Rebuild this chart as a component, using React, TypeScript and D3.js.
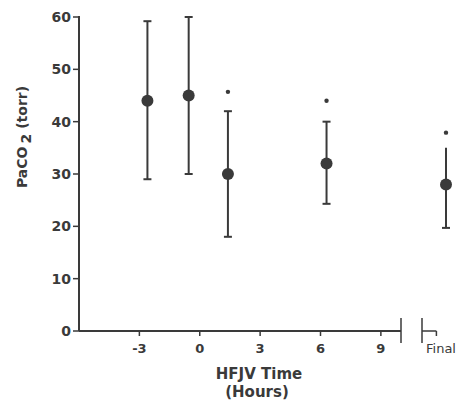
import React from "react";
import { scaleLinear } from "d3";

// time points (hours of HFJV) and PaCO2 values (torr)
const timeHours = [-2.6, -0.55, 1.4, 6.3];
const means = [44, 45, 30, 32];
const upper = [59.2, 60, 42, 40];
const lower = [29, 30, 18, 24.3];
const starValues = [null, null, 45.7, 44];

const finalMean = 28;
const finalUpper = 35;
const finalLower = 19.7;
const finalStar = 37.9;

const xTicks = [-3, 0, 3, 6, 9];
const yTicks = [0, 10, 20, 30, 40, 50, 60];

const W = 463;
const H = 403;
const ink = "#3a3a3a";
const font = "'DejaVu Sans', 'Liberation Sans', sans-serif";

export default function App() {
  const x = scaleLinear().domain([-6, 10]).range([79, 401]);
  const xFinal = scaleLinear().domain([0, 1]).range([422, 470]);
  const y = scaleLinear().domain([0, 60]).range([331, 17]);

  const x0 = x(-6);
  const y0 = y(0);
  const cap = 4;

  const points = timeHours.map((t, i) => ({
    cx: x(t),
    mean: means[i],
    hi: upper[i],
    lo: lower[i],
    star: starValues[i],
  }));
  const fx = xFinal(0.5);

  return (
    <svg
      width={W}
      height={H}
      style={{ position: "absolute", left: 0, top: 0, background: "#fff" }}
      fontFamily={font}
    >
      {/* y axis */}
      <line x1={x0} x2={x0} y1={y(60) - 1} y2={y0} stroke={ink} strokeWidth={2} />
      {yTicks.map((v) => (
        <g key={v} transform={`translate(0,${y(v)})`}>
          <line x1={x0 - 6} x2={x0} stroke={ink} strokeWidth={1.5} />
          <text x={x0 - 8} dy="0.36em" textAnchor="end" fontSize={14} fontWeight="bold" fill={ink}>
            {v}
          </text>
        </g>
      ))}
      <text
        transform={`translate(27,137) rotate(-90)`}
        textAnchor="middle"
        fontSize={14}
        fontWeight="bold"
        fill={ink}
      >
        PaCO
        <tspan dx={3} dy={4}>2</tspan>
        <tspan dx={5} dy={-4}>(torr)</tspan>
      </text>

      {/* x axis, main segment */}
      <line x1={x0} x2={x(10)} y1={y0} y2={y0} stroke={ink} strokeWidth={2} />
      <line x1={x(10)} x2={x(10)} y1={y0 - 13} y2={y0 + 12} stroke={ink} strokeWidth={1.5} />
      {xTicks.map((v) => (
        <g key={v} transform={`translate(${x(v)},${y0})`}>
          <line y1={0} y2={5} stroke={ink} strokeWidth={1.5} />
          <text y={22} textAnchor="middle" fontSize={13} fontWeight="bold" fill={ink}>
            {v}
          </text>
        </g>
      ))}

      {/* x axis, final segment */}
      <line x1={xFinal(0)} x2={xFinal(0)} y1={y0 - 13} y2={y0 + 12} stroke={ink} strokeWidth={1.5} />
      <line x1={xFinal(0)} x2={xFinal(0.3)} y1={y0} y2={y0} stroke={ink} strokeWidth={1.5} />
      <line x1={xFinal(0.3)} x2={xFinal(0.3)} y1={y0} y2={y0 + 5} stroke={ink} strokeWidth={1.5} />
      <text x={fx - 5} y={y0 + 22} textAnchor="middle" fontSize={13} fill={ink}>
        Final
      </text>

      <text x={259} y={y0 + 48} textAnchor="middle" fontSize={15} fontWeight="bold" fill={ink}>
        HFJV Time
      </text>
      <text x={257} y={y0 + 66} textAnchor="middle" fontSize={15} fontWeight="bold" fill={ink}>
        (Hours)
      </text>

      {/* error bars and means */}
      {points.map((p, i) => (
        <g key={i}>
          <line x1={p.cx} x2={p.cx} y1={y(p.hi)} y2={y(p.lo)} stroke={ink} strokeWidth={2} />
          <line x1={p.cx - cap} x2={p.cx + cap} y1={y(p.hi)} y2={y(p.hi)} stroke={ink} strokeWidth={2} />
          <line x1={p.cx - cap} x2={p.cx + cap} y1={y(p.lo)} y2={y(p.lo)} stroke={ink} strokeWidth={2} />
          <circle cx={p.cx} cy={y(p.mean)} r={6} fill={ink} />
          {p.star != null && <circle cx={p.cx} cy={y(p.star)} r={2.2} fill={ink} />}
        </g>
      ))}

      <line x1={fx} x2={fx} y1={y(finalUpper)} y2={y(finalLower)} stroke={ink} strokeWidth={2} />
      <line x1={fx - cap} x2={fx + cap} y1={y(finalLower)} y2={y(finalLower)} stroke={ink} strokeWidth={2} />
      <circle cx={fx} cy={y(finalMean)} r={6} fill={ink} />
      <circle cx={fx} cy={y(finalStar)} r={2.2} fill={ink} />
    </svg>
  );
}
